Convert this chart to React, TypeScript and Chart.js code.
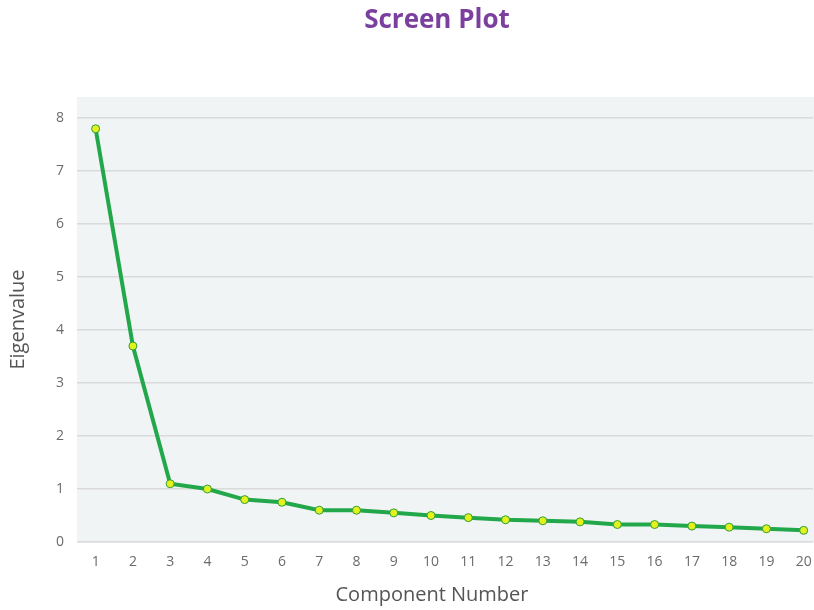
import React, { useEffect, useRef } from "react";
import { Chart, registerables } from "chart.js";

Chart.register(...registerables);

const components: number[] = [1, 2, 3, 4, 5, 6, 7, 8, 9, 10, 11, 12, 13, 14, 15, 16, 17, 18, 19, 20];
const eigenvalues: number[] = [7.8, 3.7, 1.1, 1.0, 0.8, 0.75, 0.6, 0.6, 0.55, 0.5, 0.46, 0.42, 0.4, 0.38, 0.33, 0.33, 0.3, 0.28, 0.25, 0.22];
const yTicks: number[] = [0, 1, 2, 3, 4, 5, 6, 7, 8];

const titleText = "Screen Plot";
const xTitle = "Component Number";
const yTitle = "Eigenvalue";

const bgPlugin = {
  id: "plotBg",
  beforeDraw(chart: any) {
    const { ctx, chartArea } = chart;
    ctx.save();
    ctx.fillStyle = "#f1f4f4";
    ctx.fillRect(chartArea.left, chartArea.top, chartArea.right - chartArea.left + 2, chartArea.bottom - chartArea.top + 1);
    ctx.restore();
  },
};

const titlePlugin = {
  id: "customTitle",
  afterDraw(chart: any) {
    const { ctx } = chart;
    ctx.save();
    ctx.font = "bold 26px 'Open Sans', sans-serif";
    ctx.fillStyle = "#7b3f9e";
    ctx.textAlign = "center";
    ctx.textBaseline = "middle";
    ctx.fillText(titleText, 437, 21);
    ctx.font = "20px 'Open Sans', sans-serif";
    ctx.fillStyle = "#555555";
    ctx.fillText(xTitle, 432, 595);
    ctx.restore();
  },
};

export default function App() {
  const ref = useRef<HTMLCanvasElement | null>(null);

  useEffect(() => {
    if (!ref.current) return;
    const chart = new Chart(ref.current, {
      type: "line",
      data: {
        datasets: [
          {
            data: components.map((c, i) => ({ x: c, y: eigenvalues[i] })),
            borderColor: "#22a84a",
            borderWidth: 4,
            pointBackgroundColor: "#e4f21c",
            pointBorderColor: "#2f9e3c",
            pointBorderWidth: 1,
            pointRadius: 4,
            tension: 0,
            clip: false,
          },
        ],
      },
      plugins: [bgPlugin, titlePlugin],
      options: {
        animation: false,
        responsive: false,
        maintainAspectRatio: false,
        layout: { autoPadding: false, padding: { top: 97, right: 1, left: 0, bottom: 0 } },
        plugins: {
          legend: { display: false },
          tooltip: { enabled: false },
          title: { display: false },
        },
        scales: {
          x: {
            type: "linear",
            min: 0.5,
            max: 20.25,
            afterBuildTicks: (scale: any) => {
              scale.ticks = components.map((v) => ({ value: v }));
            },
            afterFit: (scale: any) => {
              scale.height = 68;
              scale.paddingLeft = 0;
              scale.paddingRight = 0;
            },
            grid: { display: false, drawTicks: false },
            border: { display: false },
            ticks: {
              autoSkip: false,
              padding: 12,
              color: "#6b6b6b",
              font: { family: "'Open Sans', sans-serif", size: 14 },
              maxRotation: 0,
            },
            title: { display: false, text: xTitle },
          },
          y: {
            min: 0,
            max: 8.4,
            afterBuildTicks: (scale: any) => {
              scale.ticks = yTicks.map((v) => ({ value: v }));
            },
            afterFit: (scale: any) => {
              scale.width = 77;
              scale.paddingTop = 0;
              scale.paddingBottom = 0;
            },
            grid: { color: "#dadada", lineWidth: 1.5, drawTicks: false },
            border: { display: false },
            ticks: {
              padding: 13,
              color: "#6b6b6b",
              font: { family: "'Open Sans', sans-serif", size: 14 },
            },
            title: {
              display: true,
              text: yTitle,
              color: "#555555",
              font: { family: "'Open Sans', sans-serif", size: 20 },
              padding: { top: 6, bottom: 0 },
            },
          },
        },
      },
    });
    return () => chart.destroy();
  }, []);

  return (
    <div style={{ position: "absolute", left: 0, top: 0, width: 814, height: 610 }}>
      <canvas ref={ref} width={814} height={610} style={{ display: "block" }} />
    </div>
  );
}
